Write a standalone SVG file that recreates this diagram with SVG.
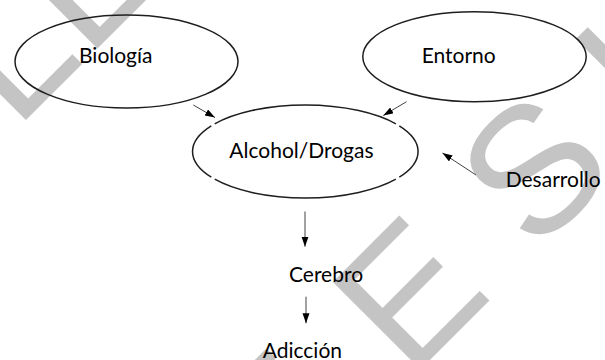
<svg xmlns="http://www.w3.org/2000/svg" width="605" height="360" viewBox="0 0 605 360">
<style>
.wm{font-family:"Liberation Sans",Arial,sans-serif;font-size:180px;fill:#c4c4c4}
.ell{fill:none;stroke:#1e1e1e;stroke-width:1.5}
.lbl{font-family:Lato,"Open Sans",sans-serif;font-size:21px;fill:#000}
.con{stroke:#444;stroke-width:1;fill:none;marker-end:url(#ah)}
</style>
<defs>
<marker id="ah" markerUnits="userSpaceOnUse" markerWidth="10" markerHeight="8" refX="10" refY="3.5" orient="auto">
<path d="M0,0 L10,3.5 L0,7 Z" fill="#000"/>
</marker>
</defs>
<rect width="605" height="360" fill="#fff"/>
<g id="watermark">
<text class="wm" transform="translate(15.5,130.5) rotate(-45)">L</text>
<text class="wm" transform="translate(87,59) rotate(-45)">L</text>
<text class="wm" transform="translate(277,513) rotate(-45)">E</text>
<text class="wm" transform="translate(410,380) rotate(-45)">E</text>
<text class="wm" transform="translate(535,255) rotate(-45)">S</text>
<text class="wm" transform="translate(653,137) rotate(-45)">L</text>
</g>
<g id="connectors">
<line class="con" x1="193.3" y1="105" x2="215" y2="117.5"/>
<line class="con" x1="406.5" y1="101.7" x2="383.3" y2="115.5"/>
<line class="con" x1="476" y1="175" x2="442.5" y2="153"/>
<line class="con" x1="305" y1="211.5" x2="305" y2="246.7"/>
<line class="con" x1="306" y1="296.7" x2="306" y2="323.3"/>
</g>
<g id="biologia">
<ellipse class="ell" cx="126.5" cy="61.5" rx="111.5" ry="46.5"/>
<text class="lbl" x="79" y="63.3">Biología</text>
</g>
<g id="entorno">
<ellipse class="ell" cx="474.5" cy="56.7" rx="111.7" ry="45"/>
<text class="lbl" x="421.7" y="63.3">Entorno</text>
</g>
<g id="alcohol">
<path class="ell" d="M395.9,179.2 A112.7,46.5 0 0 1 214.7,179.2 M211.3,177.2 A112.7,46.5 0 0 1 211.3,125.8 M214.7,123.8 A112.7,46.5 0 0 1 395.9,123.8 M399.3,125.8 A112.7,46.5 0 0 1 399.3,177.2"/>
<text class="lbl" x="229.3" y="158.3">Alcohol/Drogas</text>
</g>
<g id="desarrollo">
<text class="lbl" x="505.7" y="186.7">Desarrollo</text>
</g>
<g id="cerebro">
<text class="lbl" x="289" y="281.7">Cerebro</text>
</g>
<g id="adiccion">
<text class="lbl" x="262.7" y="358.3">Adicción</text>
</g>
</svg>
